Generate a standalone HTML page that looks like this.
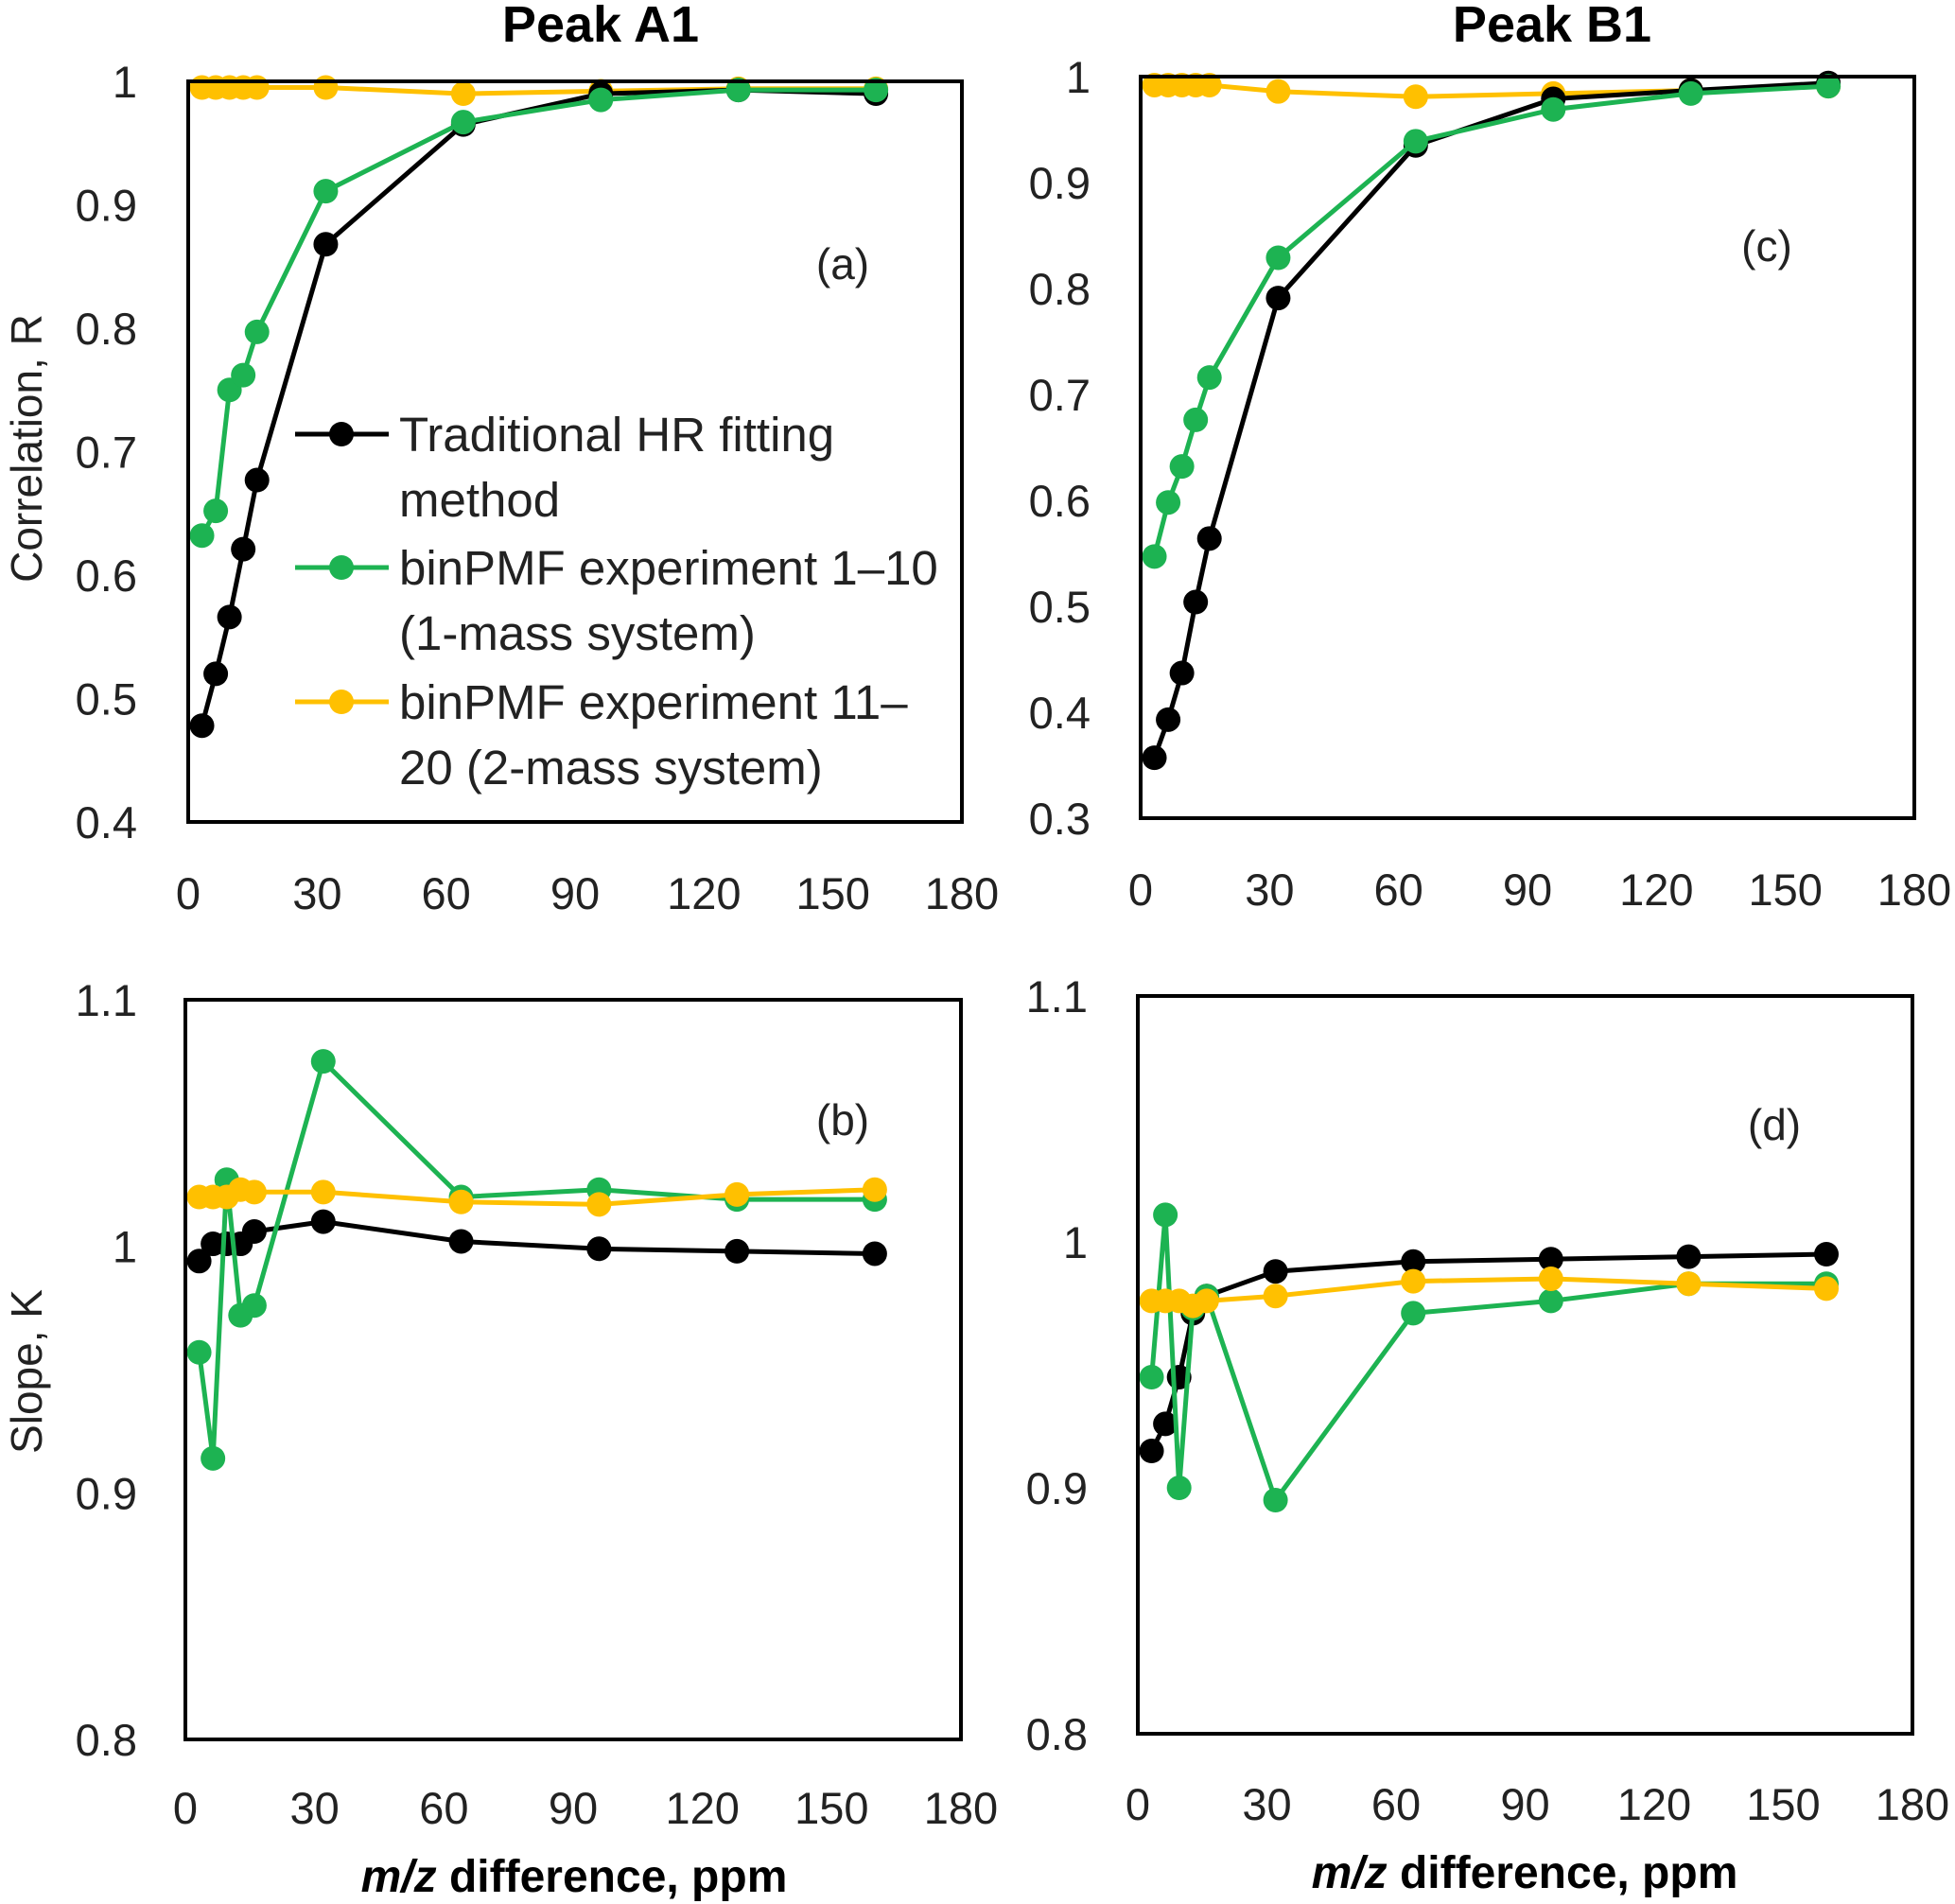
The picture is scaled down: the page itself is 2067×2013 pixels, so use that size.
<!DOCTYPE html>
<html><head><meta charset="utf-8">
<style>
html,body{margin:0;padding:0;background:#fff;}
svg{display:block;font-family:"Liberation Sans",sans-serif;}
</style></head>
<body>
<svg id="fig" width="2067" height="2013" viewBox="0 0 2067 2013" xmlns="http://www.w3.org/2000/svg">
<text x="635" y="44" font-size="54" font-weight="bold" text-anchor="middle">Peak A1</text>
<text x="1641" y="44" font-size="54" font-weight="bold" text-anchor="middle">Peak B1</text>
<text transform="translate(44,474) rotate(-90)" font-size="46" text-anchor="middle" fill="#222">Correlation, R</text>
<text transform="translate(44,1450) rotate(-90)" font-size="46" text-anchor="middle" fill="#222">Slope, K</text>
<text x="607" y="2000" font-size="48" font-weight="bold" text-anchor="middle"><tspan font-style="italic">m/z</tspan> difference, ppm</text>
<text x="1612" y="1996" font-size="48" font-weight="bold" text-anchor="middle"><tspan font-style="italic">m/z</tspan> difference, ppm</text>
</svg>
<script>
const xVals = [3.2, 6.4, 9.6, 12.8, 16, 32, 64, 96, 128, 160];
const xTicks = [0, 30, 60, 90, 120, 150, 180];
const aBlack = [0.478, 0.52, 0.566, 0.621, 0.677, 0.868, 0.965, 0.99, 0.993, 0.99];
const aGreen = [0.632, 0.652, 0.75, 0.762, 0.797, 0.911, 0.967, 0.985, 0.993, 0.993];
const aOrange = [0.995, 0.995, 0.995, 0.995, 0.995, 0.995, 0.99, 0.992, 0.994, 0.994];
const cBlack = [0.357, 0.393, 0.437, 0.504, 0.564, 0.791, 0.935, 0.979, 0.987, 0.994];
const cGreen = [0.547, 0.598, 0.632, 0.676, 0.716, 0.829, 0.939, 0.969, 0.984, 0.991];
const cOrange = [0.992, 0.992, 0.992, 0.992, 0.992, 0.986, 0.981, 0.984, 0.987, 0.991];
const bBlack = [0.994, 1.001, 1.001, 1.001, 1.006, 1.010, 1.002, 0.999, 0.998, 0.997];
const bGreen = [0.957, 0.914, 1.027, 0.972, 0.976, 1.075, 1.020, 1.023, 1.019, 1.019];
const bOrange = [1.020, 1.020, 1.020, 1.023, 1.022, 1.022, 1.018, 1.017, 1.021, 1.023];
const dBlack = [0.915, 0.926, 0.945, 0.971, 0.978, 0.988, 0.992, 0.993, 0.994, 0.995];
const dGreen = [0.945, 1.011, 0.900, 0.973, 0.978, 0.895, 0.971, 0.976, 0.983, 0.983];
const dOrange = [0.976, 0.976, 0.976, 0.974, 0.976, 0.978, 0.984, 0.985, 0.983, 0.981];
const aTicks = ["0.4","0.5","0.6","0.7","0.8","0.9","1"];
const cTicks = ["0.3","0.4","0.5","0.6","0.7","0.8","0.9","1"];
const bTicks = ["0.8","0.9","1","1.1"];

const NS = "http://www.w3.org/2000/svg";
const svg = document.getElementById('fig');
const COL = {black:"#000000", green:"#1db352", orange:"#ffc000"};
function mk(tag, attrs, parent){
  const e = document.createElementNS(NS, tag);
  for (const k in attrs) e.setAttribute(k, attrs[k]);
  (parent||svg).appendChild(e);
  return e;
}
function panel(id, box, yMin, yMax, yTickLabels, series, label, labelPos, tickRight, xTickY){
  const g = mk('g', {});
  
  
  const sx = v => box.x0 + (v - 0) / 180 * (box.x1 - box.x0);
  const sy = v => box.y1 - (v - yMin) / (yMax - yMin) * (box.y1 - box.y0);
  yTickLabels.forEach(t => {
    const tx = mk('text', {x: tickRight, y: sy(parseFloat(t)) + 17, 'font-size': 47, 'text-anchor': 'end', fill: '#222'}, g);
    tx.textContent = t;
    
    
  });
  xTickLabelsDraw(g, sx, xTickY);
  series.forEach(s => {
    const pts = xVals.map((x, i) => sx(x).toFixed(1) + ',' + sy(s.vals[i]).toFixed(1)).join(' ');
    const pl = mk('polyline', {points: pts, fill: 'none', stroke: COL[s.c], 'stroke-width': 5, 'stroke-linejoin': 'round'}, g);
    
    
    xVals.forEach((x, i) => {
      const c = mk('circle', {cx: sx(x), cy: sy(s.vals[i]), r: 13, fill: COL[s.c]}, g);
      
      
    });
  });
  const r = mk('rect', {x: box.x0, y: box.y0, width: box.x1 - box.x0, height: box.y1 - box.y0, fill: 'none', stroke: '#000', 'stroke-width': 4}, g);
  
  
  const lt = mk('text', {x: labelPos[0], y: labelPos[1] + 16, 'font-size': 46, 'text-anchor': 'middle', fill: '#222'}, g);
  lt.textContent = label;
  
  
}
function xTickLabelsDraw(g, sx, y){
  xTicks.forEach(t => {
    const tx = mk('text', {x: sx(t), y: y + 17, 'font-size': 47, 'text-anchor': 'middle', fill: '#222'}, g);
    tx.textContent = String(t);
    
    
  });
}
panel('a', {x0:199, x1:1017, y0:86, y1:869}, 0.4, 1.0, aTicks,
  [{name:'orange',c:'orange',vals:aOrange},{name:'black',c:'black',vals:aBlack},{name:'green',c:'green',vals:aGreen}],
  '(a)', [891, 279], 145, 944);
panel('c', {x0:1206, x1:2024, y0:81, y1:865}, 0.3, 1.0, cTicks,
  [{name:'orange',c:'orange',vals:cOrange},{name:'black',c:'black',vals:cBlack},{name:'green',c:'green',vals:cGreen}],
  '(c)', [1868, 260], 1153, 940);
panel('b', {x0:196, x1:1016, y0:1057, y1:1839}, 0.8, 1.1, bTicks,
  [{name:'black',c:'black',vals:bBlack},{name:'green',c:'green',vals:bGreen},{name:'orange',c:'orange',vals:bOrange}],
  '(b)', [891, 1184], 145, 1911);
panel('d', {x0:1203, x1:2022, y0:1053, y1:1833}, 0.8, 1.1, bTicks,
  [{name:'black',c:'black',vals:dBlack},{name:'green',c:'green',vals:dGreen},{name:'orange',c:'orange',vals:dOrange}],
  '(d)', [1876, 1189], 1150, 1907);

// legend
const legend = mk('g', {});


const legItems = [
  {c:'black', lines:['Traditional HR fitting','method'], y:459},
  {c:'green', lines:['binPMF experiment 1\u201310','(1-mass system)'], y:600},
  {c:'orange', lines:['binPMF experiment 11\u2013','20 (2-mass system)'], y:742}
];
legItems.forEach(it => {
  const ln = mk('line', {x1:312, x2:411, y1:it.y, y2:it.y, stroke:COL[it.c], 'stroke-width':5}, legend);
  
  
  const c = mk('circle', {cx:361, cy:it.y, r:13, fill:COL[it.c]}, legend);
  
  
  it.lines.forEach((s, k) => {
    const t = mk('text', {x:422, y:it.y + 18 + k*69, 'font-size':51, fill:'#222'}, legend);
    t.textContent = s;
    
    
  });
});
</script>
</body></html>
